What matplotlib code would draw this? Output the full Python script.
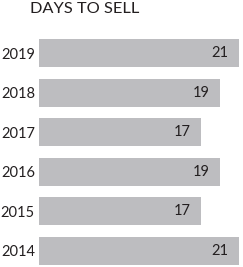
import matplotlib.pyplot as plt

years = ["2019", "2018", "2017", "2016", "2015", "2014"]
days = [21, 19, 17, 19, 17, 21]

plt.rcParams['font.family'] = ['Lato', 'DejaVu Sans']

W, H = 243, 267
fig = plt.figure(figsize=(W / 100, H / 100), dpi=100)
ax = fig.add_axes([39 / W, (H - 265) / H, 200 / W, 226 / H])

pos = list(range(len(years)))
ax.barh(pos, days, height=0.71, color="#bdbdc0")
ax.set_xlim(0, 21)
ax.set_ylim(len(years) - 1 + 0.355, -0.355)
ax.set_yticks(pos)
ax.set_yticklabels(years, fontsize=10.5, color="#231f20")
ax.tick_params(axis="y", length=0, pad=3)
ax.set_xticks([])
for s in ax.spines.values():
    s.set_visible(False)

for p, d in zip(pos, days):
    ax.text(d - 1.1, p, str(d), ha="right", va="center", fontsize=10.5, color="#231f20")

fig.text(30 / W, 1 - 2 / H, "DAYS TO SELL", ha="left", va="top", fontsize=11.8, color="#231f20")

fig.savefig("out.png", dpi=100)
